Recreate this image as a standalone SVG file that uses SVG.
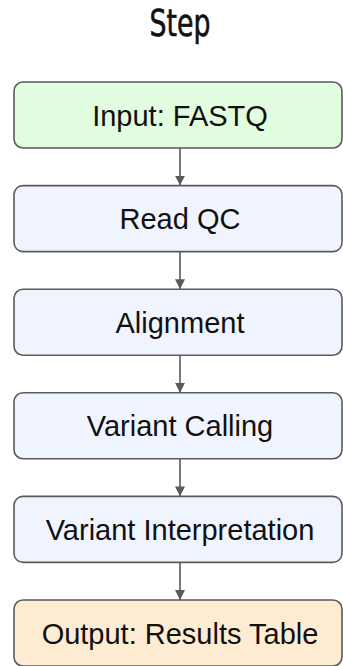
<svg xmlns="http://www.w3.org/2000/svg" width="343" height="666" viewBox="0 0 343 666">
<defs>
<style>
.box{stroke:#5a5a5a;stroke-width:1.6}
.mid{fill:#eff4ff}
.in{fill:#e2fce0}
.out{fill:#fdebd2}
.lbl{font-family:"Liberation Sans",Arial,sans-serif;font-size:29px;fill:#111;text-anchor:middle}
.edge{stroke:#5a5a5a;stroke-width:1.6;fill:none}
</style>
<marker id="ah" markerWidth="10" markerHeight="10" refX="10" refY="5" orient="auto" markerUnits="userSpaceOnUse">
<path d="M0,0 L10,5 L0,10 Z" fill="#5a5a5a"/>
</marker>
</defs>
<rect width="343" height="666" fill="#fff"/>
<text x="180" y="36" font-family="'Liberation Sans Narrow','DejaVu Sans Condensed',sans-serif" font-size="38" textLength="61" lengthAdjust="spacingAndGlyphs" text-anchor="middle" fill="#111" stroke="#111" stroke-width="0.6">Step</text>
<g id="connectors">
<line class="edge" x1="180" y1="148" x2="180" y2="185.6" marker-end="url(#ah)"/>
<line class="edge" x1="180" y1="251.6" x2="180" y2="289.2" marker-end="url(#ah)"/>
<line class="edge" x1="180" y1="355.2" x2="180" y2="392.8" marker-end="url(#ah)"/>
<line class="edge" x1="180" y1="458.8" x2="180" y2="496.4" marker-end="url(#ah)"/>
<line class="edge" x1="180" y1="562.4" x2="180" y2="600" marker-end="url(#ah)"/>
</g>
<g id="n1"><rect class="box in" x="14" y="82" width="328" height="66" rx="9"/><text class="lbl" x="180" y="125.5">Input: FASTQ</text></g>
<g id="n2"><rect class="box mid" x="14" y="185.6" width="328" height="66" rx="9"/><text class="lbl" x="180" y="229.1">Read QC</text></g>
<g id="n3"><rect class="box mid" x="14" y="289.2" width="328" height="66" rx="9"/><text class="lbl" x="180" y="332.7">Alignment</text></g>
<g id="n4"><rect class="box mid" x="14" y="392.8" width="328" height="66" rx="9"/><text class="lbl" x="180" y="436.3">Variant Calling</text></g>
<g id="n5"><rect class="box mid" x="14" y="496.4" width="328" height="66" rx="9"/><text class="lbl" x="180" y="539.9">Variant Interpretation</text></g>
<g id="n6"><rect class="box out" x="14" y="600" width="328" height="66" rx="9"/><text class="lbl" x="180" y="643.5">Output: Results Table</text></g>
</svg>
